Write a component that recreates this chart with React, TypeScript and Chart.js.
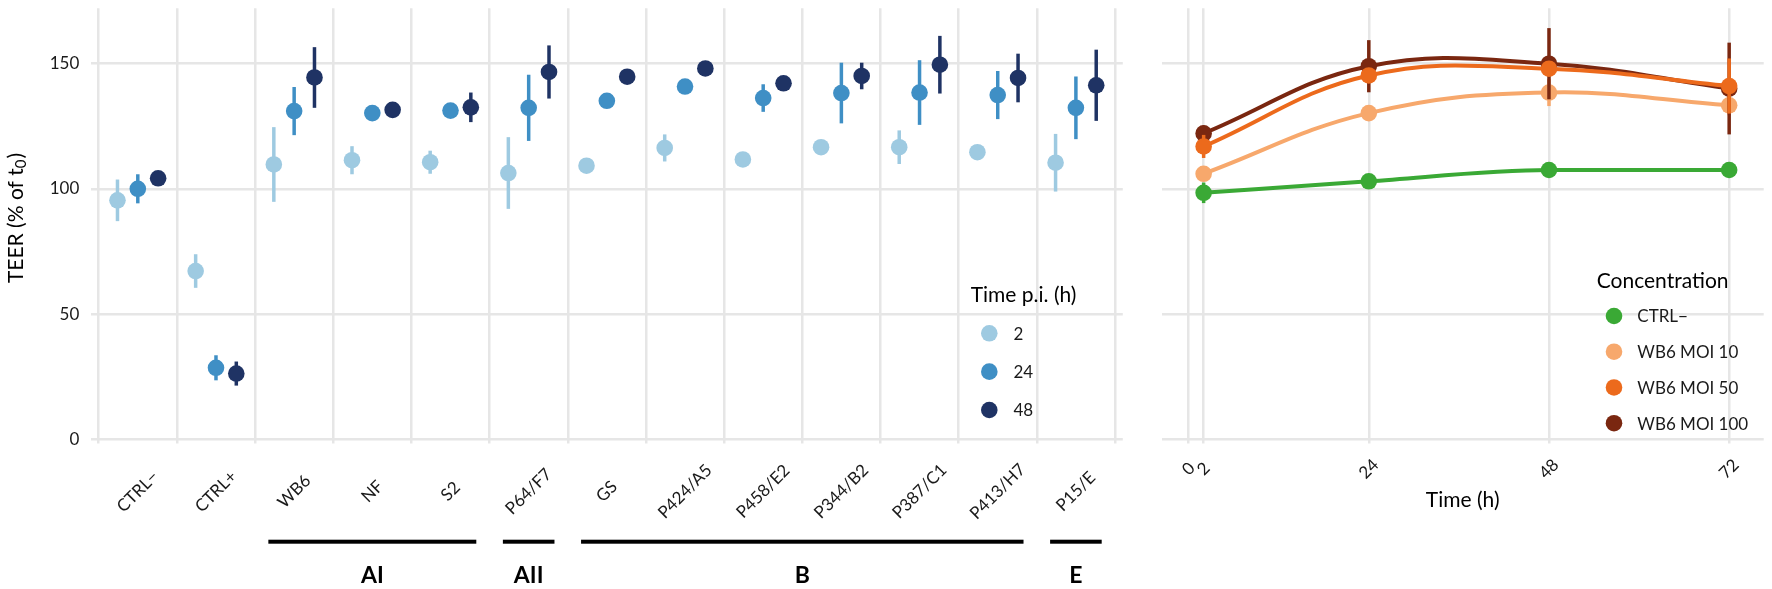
import React, { useEffect, useRef } from 'react';
import { Chart, registerables } from 'chart.js';

Chart.register(...registerables);

const FONT = 'Lato, "Open Sans", sans-serif';
const GRID = '#e6e6e6';
const TEXT = '#1a1a1a';

// ---------------- left panel data ----------------
const categories = ['CTRL−', 'CTRL+', 'WB6', 'NF', 'S2', 'P64/F7', 'GS', 'P424/A5', 'P458/E2', 'P344/B2', 'P387/C1', 'P413/H7', 'P15/E'];
const timeLabels = ['2', '24', '48'];
const teer2h = [95.4, 67.2, 109.7, 111.4, 110.6, 106.3, 109.2, 116.3, 111.7, 116.6, 116.6, 114.6, 110.4];
const sd2h = [8.3, 6.7, 14.9, 5.6, 4.6, 14.3, 1.5, 5.4, 1.5, 1.5, 6.7, 1.5, 11.5];
const teer24h = [100, 28.6, 131, 130.2, 131.2, 132.3, 135.1, 140.8, 136.2, 138.2, 138.4, 137.4, 132.3];
const sd24h = [5.8, 5.0, 9.6, 1.5, 1.5, 13.2, 2.5, 1.5, 5.5, 12.1, 12.9, 9.6, 12.5];
const teer48h = [104.2, 26.3, 144.4, 131.5, 132.5, 146.6, 144.7, 148, 142.1, 145, 149.5, 144.2, 141.3];
const sd48h = [1.5, 4.8, 12.1, 1.5, 5.9, 10.6, 1.5, 1.5, 1.5, 5.3, 11.5, 9.7, 14.2];
const dodge = [-0.26, 0, 0.26];
const groupNames = ['AI', 'AII', 'B', 'E'];
const groupFirst = ['WB6', 'P64/F7', 'GS', 'P15/E'];
const groupLast = ['S2', 'P64/F7', 'P413/H7', 'P15/E'];
const yTicks = [0, 50, 100, 150];
const blues = ['#9ecae1', '#3f8fc5', '#1f3364'];

// ---------------- right panel data ----------------
const hours = [2, 24, 48, 72];
const hourTicks = [0, 2, 24, 48, 72];
const concLabels = ['CTRL−', 'WB6 MOI 10', 'WB6 MOI 50', 'WB6 MOI 100'];
const ctrlNeg = [98.4, 103, 107.5, 107.5];
const sdCtrlNeg = [4.1, 1, 1, 1];
const moi10 = [106, 130.2, 138.4, 133.3];
const sdMoi10 = [1, 1, 5.4, 4];
const moi50 = [116.9, 145.2, 147.9, 141];
const sdMoi50 = [4.6, 2, 2, 11];
const moi100 = [122.1, 148.9, 149.9, 140];
const sdMoi100 = [3.1, 10.4, 14.2, 18.3];
const concColors = ['#3aa935', '#f7a86c', '#ec6a1c', '#7a2710'];
const concOrder = [3, 2, 0, 1];
const concCurve = ['monotone', 'default', 'default', 'default'];

const errorBars = {
  id: 'errorBars',
  beforeDatasetDraw(chart: any, args: any) {
    const ds: any = chart.data.datasets[args.index];
    if (!ds.errs) return;
    const ys = chart.scales.y;
    const ctx = chart.ctx;
    ctx.save();
    ctx.strokeStyle = ds.backgroundColor;
    ctx.lineWidth = 3.5;
    ctx.lineCap = 'butt';
    args.meta.data.forEach((el: any, i: number) => {
      const v = ds.data[i].y;
      const e = ds.errs[i];
      ctx.beginPath();
      ctx.moveTo(el.x, ys.getPixelForValue(v - e));
      ctx.lineTo(el.x, ys.getPixelForValue(v + e));
      ctx.stroke();
    });
    ctx.restore();
  },
};

const leftDecor = {
  id: 'leftDecor',
  afterDraw(chart: any) {
    const ctx = chart.ctx;
    const xs = chart.scales.x;
    ctx.save();
    // category labels
    ctx.fillStyle = TEXT;
    ctx.font = `17px ${FONT}`;
    ctx.textAlign = 'center';
    ctx.textBaseline = 'middle';
    categories.forEach((c, i) => {
      ctx.save();
      ctx.translate(xs.getPixelForValue(i + 1), 491.5);
      ctx.rotate(-Math.PI / 4);
      ctx.fillText(c, 0, 0);
      ctx.restore();
    });
    // group bars
    groupNames.forEach((g, k) => {
      const a = categories.indexOf(groupFirst[k]) + 1;
      const b = categories.indexOf(groupLast[k]) + 1;
      const x0 = xs.getPixelForValue(a - 0.33);
      const x1 = xs.getPixelForValue(b + 0.33);
      ctx.fillStyle = '#000';
      ctx.fillRect(x0, 539.7, x1 - x0, 4);
      ctx.font = `bold 23px ${FONT}`;
      ctx.textAlign = 'center';
      ctx.textBaseline = 'alphabetic';
      ctx.fillText(g, (x0 + x1) / 2, 583.3);
    });
    // y title
    ctx.save();
    ctx.translate(15.8, 218);
    ctx.rotate(-Math.PI / 2);
    ctx.fillStyle = '#000';
    ctx.textBaseline = 'middle';
    ctx.textAlign = 'left';
    const big = `21px ${FONT}`;
    const small = `15px ${FONT}`;
    const p1 = 'TEER (% of t';
    const p2 = '0';
    const p3 = ')';
    ctx.font = big;
    const w1 = ctx.measureText(p1).width;
    const w3 = ctx.measureText(p3).width;
    ctx.font = small;
    const w2 = ctx.measureText(p2).width;
    const tot = w1 + w2 + w3 + 1;
    let x = -tot / 2;
    ctx.font = big;
    ctx.fillText(p1, x, 0);
    x += w1;
    ctx.font = small;
    ctx.fillText(p2, x, 5);
    x += w2 + 1;
    ctx.font = big;
    ctx.fillText(p3, x, 0);
    ctx.restore();
    // legend
    ctx.fillStyle = '#000';
    ctx.font = `21px ${FONT}`;
    ctx.textAlign = 'left';
    ctx.textBaseline = 'alphabetic';
    ctx.fillText('Time p.i. (h)', 970.7, 301.7);
    ctx.font = `17px ${FONT}`;
    ctx.textBaseline = 'middle';
    timeLabels.forEach((t, k) => {
      const y = 333.3 + k * 38.35;
      ctx.fillStyle = blues[k];
      ctx.beginPath();
      ctx.arc(989.3, y, 8.3, 0, Math.PI * 2);
      ctx.fill();
      ctx.fillStyle = TEXT;
      ctx.fillText(t, 1013.5, y + 1);
    });
    ctx.restore();
  },
};

const rightDecor = {
  id: 'rightDecor',
  afterDraw(chart: any) {
    const ctx = chart.ctx;
    const xs = chart.scales.x;
    const ca = chart.chartArea;
    ctx.save();
    ctx.fillStyle = TEXT;
    ctx.font = `17px ${FONT}`;
    ctx.textAlign = 'center';
    ctx.textBaseline = 'middle';
    hourTicks.forEach((h) => {
      ctx.save();
      ctx.translate(xs.getPixelForValue(h), 469);
      ctx.rotate(-Math.PI / 4);
      ctx.fillText(String(h), 0, 0);
      ctx.restore();
    });
    ctx.fillStyle = '#000';
    ctx.font = `21px ${FONT}`;
    ctx.fillText('Time (h)', (ca.left + ca.right) / 2, 500);
    // legend
    ctx.textAlign = 'left';
    ctx.textBaseline = 'alphabetic';
    ctx.fillText('Concentration', 456.7, 288.3);
    ctx.font = `17px ${FONT}`;
    ctx.textBaseline = 'middle';
    concLabels.forEach((t, k) => {
      const y = 316 + k * 35.73;
      ctx.fillStyle = concColors[k];
      ctx.beginPath();
      ctx.arc(474, y, 8.3, 0, Math.PI * 2);
      ctx.fill();
      ctx.fillStyle = TEXT;
      ctx.fillText(t, 497.3, y + 1);
    });
    ctx.restore();
  },
};

const fixY = (width: number) => (s: any) => {
  s.width = width;
  s.paddingTop = 0;
  s.paddingBottom = 0;
};
const fixX = (s: any) => {
  s.height = 149.5;
  s.paddingLeft = 0;
  s.paddingRight = 0;
};

export default function App() {
  const leftRef = useRef<HTMLCanvasElement>(null);
  const rightRef = useRef<HTMLCanvasElement>(null);

  useEffect(() => {
    const vals = [teer2h, teer24h, teer48h];
    const sds = [sd2h, sd24h, sd48h];
    const boundaries = categories.map((_, i) => i + 0.5).concat([categories.length + 0.5]);
    const left = new Chart(leftRef.current as HTMLCanvasElement, {
      type: 'scatter',
      data: {
        datasets: vals.map((v, k) => ({
          label: timeLabels[k],
          data: v.map((y, i) => ({ x: i + 1 + dodge[k], y })),
          backgroundColor: blues[k],
          borderColor: blues[k],
          pointRadius: 8.3,
          pointHoverRadius: 8.3,
          pointBorderWidth: 0,
          showLine: false,
          order: 3 - k,
          errs: sds[k],
        })) as any,
      },
      options: {
        responsive: false,
        devicePixelRatio: 1,
        animation: false,
        events: [],
        layout: { padding: { top: 5, right: 17.2, bottom: 0, left: 0 } },
        plugins: { legend: { display: false }, tooltip: { enabled: false } },
        scales: {
          x: {
            type: 'linear',
            min: 0.4,
            max: 13.6,
            afterBuildTicks: (s: any) => {
              s.ticks = boundaries.map((value) => ({ value }));
            },
            afterFit: fixX,
            grid: { color: GRID, lineWidth: 2.5, drawTicks: true, tickLength: 4, tickColor: GRID },
            border: { display: false },
            ticks: { display: false },
          },
          y: {
            min: 0,
            max: 172,
            afterBuildTicks: (s: any) => {
              s.ticks = yTicks.map((value) => ({ value }));
            },
            afterFit: fixY(90.9),
            grid: { color: GRID, lineWidth: 2.5, drawTicks: false },
            border: { display: false },
            ticks: { color: TEXT, font: { family: FONT, size: 17 }, padding: 11.6 },
          },
        },
      },
      plugins: [errorBars, leftDecor],
    });

    const series = [ctrlNeg, moi10, moi50, moi100];
    const seriesSd = [sdCtrlNeg, sdMoi10, sdMoi50, sdMoi100];
    const right = new Chart(rightRef.current as HTMLCanvasElement, {
      type: 'line',
      data: {
        datasets: series.map((v, k) => ({
          label: concLabels[k],
          data: v.map((y, i) => ({ x: hours[i], y })),
          backgroundColor: concColors[k],
          borderColor: concColors[k],
          borderWidth: 4,
          tension: 0.4,
          cubicInterpolationMode: concCurve[k],
          pointRadius: 8.3,
          pointHoverRadius: 8.3,
          pointBorderWidth: 0,
          fill: false,
          order: concOrder[k],
          errs: seriesSd[k],
        })) as any,
      },
      options: {
        responsive: false,
        devicePixelRatio: 1,
        animation: false,
        events: [],
        layout: { padding: { top: 5, right: 6, bottom: 0, left: 0 } },
        plugins: { legend: { display: false }, tooltip: { enabled: false } },
        scales: {
          x: {
            type: 'linear',
            min: -3.6,
            max: 76.6,
            afterBuildTicks: (s: any) => {
              s.ticks = hourTicks.map((value) => ({ value }));
            },
            afterFit: fixX,
            grid: { color: GRID, lineWidth: 2.5, drawTicks: true, tickLength: 4, tickColor: GRID },
            border: { display: false },
            ticks: { display: false },
          },
          y: {
            min: 0,
            max: 172,
            afterBuildTicks: (s: any) => {
              s.ticks = yTicks.map((value) => ({ value }));
            },
            afterFit: fixY(21.6),
            grid: { color: GRID, lineWidth: 2.5, drawTicks: false },
            border: { display: false },
            ticks: { display: false },
          },
        },
      },
      plugins: [errorBars, rightDecor],
    });

    return () => {
      left.destroy();
      right.destroy();
    };
  }, []);

  return (
    <div style={{ position: 'absolute', left: 0, top: 0, width: 1772, height: 589, background: '#fff' }}>
      <canvas ref={leftRef} width={1140} height={589} style={{ position: 'absolute', left: 0, top: 0, width: 1140, height: 589 }} />
      <canvas ref={rightRef} width={632} height={589} style={{ position: 'absolute', left: 1140, top: 0, width: 632, height: 589 }} />
    </div>
  );
}
